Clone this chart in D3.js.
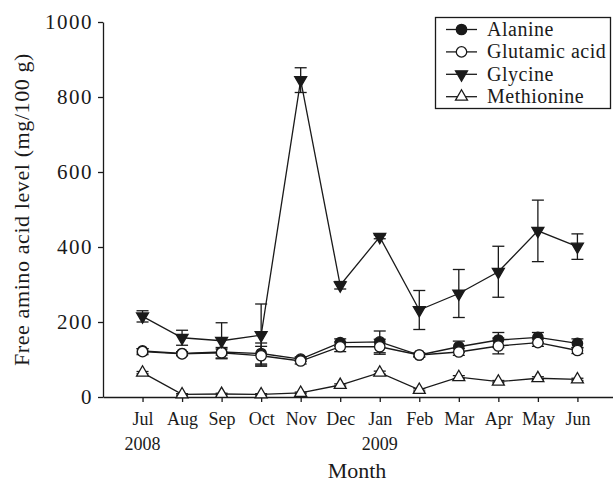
<!DOCTYPE html>
<html>
<head>
<meta charset="utf-8">
<script src="https://cdn.jsdelivr.net/npm/d3@7"></script>
<style>
  html, body { margin: 0; padding: 0; background: #fff; }
  svg { display: block; }
</style>
</head>
<body>
<svg id="chart" width="613" height="482"></svg>
<script>
// Monthly free amino acid levels (mg/100 g), Jul 2008 – Jun 2009
const months = ["Jul", "Aug", "Sep", "Oct", "Nov", "Dec", "Jan", "Feb", "Mar", "Apr", "May", "Jun"];
const years = ["2008", "", "", "", "", "", "2009", "", "", "", "", ""];
const yTicks = [0, 200, 400, 600, 800, 1000];

const alanine      = [123, 116, 120, 116, 101, 145, 147, 112, 134, 152, 159, 143];
const alanineErr   = [6, 5, 8, 28, 6, 10, 29, 5, 15, 20, 13, 12];
const glutamic     = [121, 115, 118, 110, 96, 134, 134, 112, 120, 136, 145, 124];
const glutamicErr  = [8, 5, 14, 25, 8, 13, 20, 5, 9, 21, 10, 8];
const glycine      = [215, 158, 150, 165, 845, 298, 427, 232, 276, 334, 443, 401];
const glycineErr   = [15, 20, 48, 83, 33, 10, 5, 52, 64, 68, 82, 34];
const methionine   = [65, 7, 8, 7, 11, 32, 65, 19, 53, 41, 50, 47];
const methionineErr = [3, 2, 2, 2, 2, 3, 4, 3, 4, 3, 4, 3];

const seriesNames = ["Alanine", "Glutamic acid", "Glycine", "Methionine"];

const FONT = "'Liberation Serif', 'Times New Roman', serif";
const svg = d3.select("#chart").attr("font-family", FONT);
const ink = "#1a1a1a";

const x = d3.scaleLinear().domain([0, 12.9]).range([103, 613]);
const y = d3.scaleLinear().domain([0, 1000]).range([397, 22]);

// axes
const xAxis = d3.axisBottom(x)
  .tickValues(d3.range(1, 13))
  .tickFormat(d => months[d - 1])
  .tickSize(5).tickSizeOuter(0).tickPadding(10);
const gx = svg.append("g").attr("transform", `translate(0,${y(0)})`).call(xAxis);
gx.attr("font-family", FONT).attr("font-size", 18);
gx.selectAll("text").attr("fill", ink);

const yAxis = d3.axisLeft(y).tickValues(yTicks).tickFormat(d3.format("d"))
  .tickSize(5).tickSizeOuter(0).tickPadding(5);
const gy = svg.append("g").attr("transform", `translate(${x(0)},0)`).call(yAxis);
gy.attr("font-family", FONT).attr("font-size", 21);
gy.selectAll("text").attr("fill", ink).attr("letter-spacing", 1.5);

[gx, gy].forEach(g => {
  g.selectAll("path, line").attr("stroke", ink).attr("stroke-width", 1.3);
});

// year labels beneath the month ticks
svg.append("g").selectAll("text")
  .data(years.map((t, i) => ({ t, i })).filter(d => d.t))
  .join("text")
  .attr("x", d => x(d.i + 1))
  .attr("y", 450)
  .attr("text-anchor", "middle")
  .attr("font-size", 18)
  .attr("fill", ink)
  .text(d => d.t);

// axis titles
svg.append("text")
  .attr("x", 357).attr("y", 478)
  .attr("text-anchor", "middle")
  .attr("font-size", 22)
  .attr("fill", ink)
  .text("Month");

svg.append("text")
  .attr("transform", `translate(29,${(y(0) + y(1000)) / 2}) rotate(-90)`)
  .attr("text-anchor", "middle")
  .attr("font-size", 22)
  .attr("letter-spacing", 0.6)
  .attr("fill", ink)
  .text("Free amino acid level (mg/100 g)");

// marker definitions
const triUp = d3.symbol().type(d3.symbolTriangle).size(62)();
const markers = [
  { shape: "circle", fill: ink },
  { shape: "circle", fill: "#fff" },
  { shape: "down", fill: ink },
  { shape: "up", fill: "#fff" }
];

function drawMarker(g, m, cx, cy) {
  if (m.shape === "circle") {
    g.append("circle").attr("cx", cx).attr("cy", cy).attr("r", 5.2)
      .attr("fill", m.fill).attr("stroke", ink).attr("stroke-width", 1.3);
  } else {
    g.append("path").attr("d", triUp)
      .attr("transform", `translate(${cx},${cy})` + (m.shape === "down" ? " rotate(180)" : ""))
      .attr("fill", m.fill).attr("stroke", ink).attr("stroke-width", 1.3);
  }
}

const series = [
  { values: alanine, err: alanineErr, m: markers[0] },
  { values: glutamic, err: glutamicErr, m: markers[1] },
  { values: glycine, err: glycineErr, m: markers[2] },
  { values: methionine, err: methionineErr, m: markers[3] }
];

const line = d3.line().x((d, i) => x(i + 1)).y(d => y(d));
const plot = svg.append("g");

series.forEach(s => {
  plot.append("path").attr("d", line(s.values))
    .attr("fill", "none").attr("stroke", ink).attr("stroke-width", 1.3);
});

// error bars
const cap = 6;
series.forEach(s => {
  const g = plot.append("g").attr("stroke", ink).attr("stroke-width", 1.3);
  s.values.forEach((v, i) => {
    const cx = x(i + 1), top = y(v + s.err[i]), bot = y(v - s.err[i]);
    g.append("line").attr("x1", cx).attr("x2", cx).attr("y1", top).attr("y2", bot);
    g.append("line").attr("x1", cx - cap).attr("x2", cx + cap).attr("y1", top).attr("y2", top);
    g.append("line").attr("x1", cx - cap).attr("x2", cx + cap).attr("y1", bot).attr("y2", bot);
  });
});

// markers
series.forEach(s => {
  const g = plot.append("g");
  s.values.forEach((v, i) => drawMarker(g, s.m, x(i + 1), y(v)));
});

// legend
const lg = svg.append("g");
lg.append("rect").attr("x", 435.5).attr("y", 17.5).attr("width", 175).attr("height", 91)
  .attr("fill", "#fff").attr("stroke", ink).attr("stroke-width", 1.3);
seriesNames.forEach((name, i) => {
  const cy = 29.5 + i * 22.4;
  lg.append("line").attr("x1", 446).attr("x2", 477).attr("y1", cy).attr("y2", cy)
    .attr("stroke", ink).attr("stroke-width", 1.3);
  drawMarker(lg, markers[i], 461.5, cy);
  lg.append("text").attr("x", 487).attr("y", cy + 6.5)
    .attr("font-size", 20).attr("letter-spacing", 0.5)
    .attr("fill", ink).text(name);
});
</script>
</body>
</html>
